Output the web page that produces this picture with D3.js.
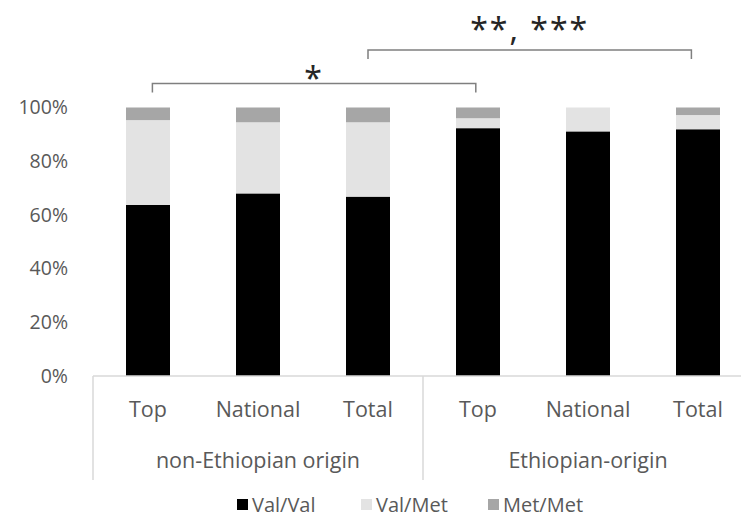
<!DOCTYPE html>
<html>
<head>
<meta charset="utf-8">
<script src="https://cdn.jsdelivr.net/npm/d3@7"></script>
<style>
  html, body { margin: 0; padding: 0; background: #fff; }
  svg { display: block; font-family: "Open Sans", sans-serif; }
</style>
</head>
<body>
<svg id="chart" width="741" height="517"></svg>
<script>
// Genotype share by group (fractions of 1)
const groups = ["non-Ethiopian origin", "Ethiopian-origin"];
const categories = ["Top", "National", "Total", "Top", "National", "Total"];
const seriesNames = ["Val/Val", "Val/Met", "Met/Met"];
const valVal = [0.637, 0.680, 0.668, 0.923, 0.911, 0.919];
const valMet = [0.316, 0.265, 0.277, 0.037, 0.089, 0.053];
const metMet = [0.047, 0.055, 0.055, 0.040, 0.000, 0.028];
const seriesColors = ["#000000", "#e3e3e3", "#a6a6a6"];
const yTicks = [0, 0.2, 0.4, 0.6, 0.8, 1.0];

// Significance brackets: ends in category-index units, height in value units
const bracketFrom = [0.04, 2.0];
const bracketTo = [2.98, 4.94];
const bracketLevel = [1.089, 1.214];
const bracketLabels = ["*", "**, ***"];

const svg = d3.select("#chart");
const margin = { left: 93, right: -12, top: 107.5, bottom: 141 };
const W = 741, H = 517;

const x = d3.scaleBand()
  .domain(d3.range(categories.length))
  .range([margin.left, W - margin.right])
  .paddingInner(0.6)
  .paddingOuter(0.3);

const y = d3.scaleLinear()
  .domain([0, 1])
  .range([H - margin.bottom, margin.top]);

const step = x.step();
const centerAt = i => x(0) + x.bandwidth() / 2 + i * step;

// Stack the three genotype series
const rows = categories.map((c, i) => ({
  idx: i, "Val/Val": valVal[i], "Val/Met": valMet[i], "Met/Met": metMet[i]
}));
const stacked = d3.stack().keys(seriesNames)(rows);

const colour = d3.scaleOrdinal().domain(seriesNames).range(seriesColors);

svg.append("g")
  .selectAll("g")
  .data(stacked)
  .join("g")
  .attr("fill", d => colour(d.key))
  .selectAll("rect")
  .data(d => d)
  .join("rect")
  .attr("x", d => x(d.data.idx))
  .attr("width", x.bandwidth())
  .attr("y", d => y(d[1]))
  .attr("height", d => Math.max(0, y(d[0]) - y(d[1])));

// Value axis (labels only)
const yAxis = d3.axisLeft(y)
  .tickValues(yTicks)
  .tickFormat(d3.format(".0%"))
  .tickSize(0)
  .tickPadding(0);

const ya = svg.append("g")
  .attr("transform", `translate(68,0)`)
  .call(yAxis);
ya.select(".domain").remove();
ya.selectAll("text")
  .attr("fill", "#595959")
  .style("font-size", "19.5px")
  .style("font-family", "'Open Sans', sans-serif");

// Category axis: baseline, category labels, group labels, dividers
const axisColor = "#d9d9d9";
const baseY = y(0);
svg.append("line")
  .attr("x1", margin.left).attr("x2", W)
  .attr("y1", baseY).attr("y2", baseY)
  .attr("stroke", axisColor).attr("stroke-width", 1.5);

const xAxis = d3.axisBottom(x)
  .tickFormat(i => categories[i])
  .tickSize(0)
  .tickPadding(0);
const xa = svg.append("g")
  .attr("transform", `translate(0,${baseY})`)
  .call(xAxis);
xa.select(".domain").remove();
xa.selectAll("text")
  .attr("dy", null)
  .attr("y", 41)
  .attr("fill", "#595959")
  .style("font-size", "21.5px")
  .style("font-family", "'Open Sans', sans-serif");

// Group boundaries
const perGroup = categories.length / groups.length;
const boundaries = d3.range(groups.length + 1).map(g => x(0) - x.paddingOuter() * step + g * perGroup * step);
svg.append("g")
  .selectAll("line")
  .data(boundaries)
  .join("line")
  .attr("x1", d => d).attr("x2", d => d)
  .attr("y1", baseY).attr("y2", baseY + 104)
  .attr("stroke", axisColor).attr("stroke-width", 1.5);

svg.append("g")
  .selectAll("text")
  .data(groups)
  .join("text")
  .attr("x", (g, gi) => (boundaries[gi] + boundaries[gi + 1]) / 2)
  .attr("y", baseY + 92)
  .attr("text-anchor", "middle")
  .attr("fill", "#595959")
  .style("font-size", "21.5px")
  .text(g => g);

// Significance brackets; the single star sits low, close to its line
const bracketColor = "#7f7f7f";
const labelShift = [6.5, -9];
const br = svg.append("g");
bracketLabels.forEach((lab, k) => {
  const x1 = centerAt(bracketFrom[k]);
  const x2 = centerAt(bracketTo[k]);
  const yl = y(bracketLevel[k]);
  br.append("path")
    .attr("d", `M${x1},${yl + 9}V${yl}H${x2}V${yl + 9}`)
    .attr("fill", "none")
    .attr("stroke", bracketColor)
    .attr("stroke-width", 1.5);
  br.append("text")
    .attr("x", (x1 + x2) / 2)
    .attr("y", yl + labelShift[k])
    .attr("text-anchor", "middle")
    .attr("fill", "#262626")
    .style("font-family", "'Noto Sans', sans-serif")
    .style("font-size", "32px")
    .style("letter-spacing", "2px")
    .text(lab);
});

// Legend
const legendX = [237, 361, 488];
const lg = svg.append("g")
  .selectAll("g")
  .data(seriesNames)
  .join("g")
  .attr("transform", (d, i) => `translate(${legendX[i]},499)`);
lg.append("rect")
  .attr("width", 11).attr("height", 11)
  .attr("fill", d => colour(d));
lg.append("text")
  .attr("x", 15)
  .attr("y", 13)
  .attr("fill", "#595959")
  .style("font-size", "20px")
  .text(d => d);
</script>
</body>
</html>
